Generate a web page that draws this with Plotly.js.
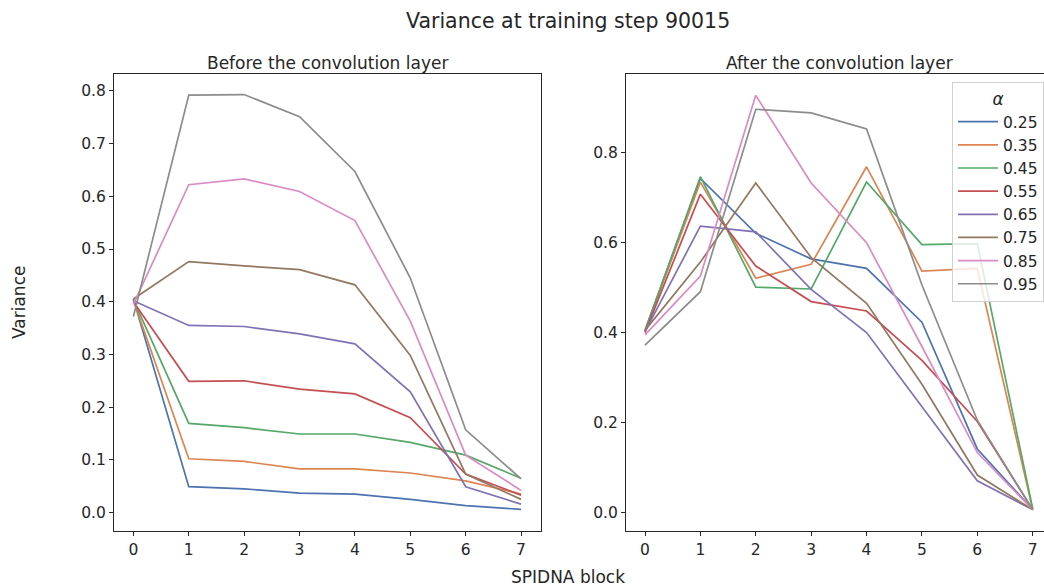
<!DOCTYPE html>
<html>
<head>
<meta charset="utf-8">
<script src="https://cdn.plot.ly/plotly-3.0.1.min.js"></script>
<style>
  html, body { margin: 0; padding: 0; background: #ffffff; }
  #chart { width: 1044px; height: 587px; }
</style>
</head>
<body>
<div id="chart"></div>
<script>
// SPIDNA block index
const blocks = [0, 1, 2, 3, 4, 5, 6, 7];

// alpha values, one line per value
const alphas = ['0.25', '0.35', '0.45', '0.55', '0.65', '0.75', '0.85', '0.95'];

// seaborn "deep" palette
const colors = ['#4C72B0', '#DD8452', '#55A868', '#C44E52', '#8172B3', '#937860', '#DA8BC3', '#8C8C8C'];

// Variance before the convolution layer
const before_025 = [0.405, 0.049, 0.045, 0.037, 0.035, 0.025, 0.013, 0.006];
const before_035 = [0.403, 0.102, 0.097, 0.083, 0.083, 0.075, 0.060, 0.035];
const before_045 = [0.404, 0.169, 0.161, 0.149, 0.149, 0.133, 0.109, 0.065];
const before_055 = [0.400, 0.249, 0.250, 0.234, 0.225, 0.180, 0.073, 0.033];
const before_065 = [0.402, 0.355, 0.353, 0.339, 0.320, 0.229, 0.049, 0.016];
const before_075 = [0.405, 0.476, 0.468, 0.461, 0.432, 0.298, 0.073, 0.025];
const before_085 = [0.395, 0.622, 0.633, 0.609, 0.554, 0.363, 0.109, 0.042];
const before_095 = [0.372, 0.792, 0.793, 0.751, 0.647, 0.445, 0.157, 0.064];

// Variance after the convolution layer
const after_025 = [0.405, 0.743, 0.621, 0.564, 0.543, 0.423, 0.141, 0.006];
const after_035 = [0.403, 0.735, 0.521, 0.552, 0.769, 0.537, 0.543, 0.006];
const after_045 = [0.404, 0.747, 0.501, 0.497, 0.735, 0.596, 0.598, 0.008];
const after_055 = [0.400, 0.708, 0.548, 0.469, 0.448, 0.338, 0.202, 0.006];
const after_065 = [0.402, 0.637, 0.624, 0.496, 0.400, 0.236, 0.070, 0.006];
const after_075 = [0.405, 0.557, 0.733, 0.567, 0.465, 0.285, 0.083, 0.006];
const after_085 = [0.395, 0.526, 0.928, 0.733, 0.600, 0.369, 0.133, 0.006];
const after_095 = [0.372, 0.491, 0.897, 0.889, 0.853, 0.506, 0.205, 0.006];

const beforeSeries = [before_025, before_035, before_045, before_055, before_065, before_075, before_085, before_095];
const afterSeries = [after_025, after_035, after_045, after_055, after_065, after_075, after_085, after_095];

const FONT = 'DejaVu Sans, Liberation Sans, sans-serif';
const INK = '#262626';

const traces = [];
alphas.forEach((a, i) => {
  traces.push({
    x: blocks, y: beforeSeries[i], xaxis: 'x', yaxis: 'y',
    type: 'scatter', mode: 'lines', name: a, legendgroup: a, showlegend: false,
    line: { color: colors[i], width: 1.7 }
  });
});
alphas.forEach((a, i) => {
  traces.push({
    x: blocks, y: afterSeries[i], xaxis: 'x2', yaxis: 'y2',
    type: 'scatter', mode: 'lines', name: a, legendgroup: a, showlegend: true,
    line: { color: colors[i], width: 1.7 }
  });
});

const W = 1044, H = 587;
const px = v => v / W;
const py = v => 1 - v / H;

const axisCommon = {
  showgrid: false, zeroline: false,
  showline: true, mirror: true, linecolor: INK, linewidth: 1,
  ticks: 'outside', ticklen: 4, tickwidth: 1, tickcolor: INK,
  tickfont: { family: FONT, size: 15.5, color: INK }
};

const layout = {
  width: W, height: H,
  margin: { l: 0, r: 0, t: 0, b: 0 },
  paper_bgcolor: '#ffffff', plot_bgcolor: '#ffffff',
  font: { family: FONT, color: INK },
  showlegend: true,
  xaxis: Object.assign({}, axisCommon, {
    domain: [px(114), px(541)], range: [-0.35, 7.36],
    tickmode: 'array', tickvals: blocks, ticktext: blocks.map(String), anchor: 'y'
  }),
  yaxis: Object.assign({}, axisCommon, {
    domain: [py(531), py(74)], range: [-0.035, 0.832],
    tickmode: 'linear', tick0: 0, dtick: 0.1, tickformat: '.1f', anchor: 'x'
  }),
  xaxis2: Object.assign({}, axisCommon, {
    domain: [px(626), 1], range: [-0.343, 7.204],
    tickmode: 'array', tickvals: blocks, ticktext: blocks.map(String), anchor: 'y2'
  }),
  yaxis2: Object.assign({}, axisCommon, {
    domain: [py(531), py(74)], range: [-0.0416, 0.9755],
    tickmode: 'linear', tick0: 0, dtick: 0.2, tickformat: '.1f', anchor: 'x2'
  }),
  legend: {
    x: px(952), xanchor: 'left', y: py(82), yanchor: 'top',
    bgcolor: 'rgba(255,255,255,0.8)', bordercolor: '#d0d0d0', borderwidth: 1,
    font: { family: FONT, size: 15.5, color: INK },
    title: { text: '<i>α</i>', side: 'top center', font: { family: FONT, size: 17, color: INK } },
    itemwidth: 40, tracegroupgap: 0
  },
  annotations: [
    { text: 'Variance at training step 90015', x: px(568), y: py(21), xref: 'paper', yref: 'paper',
      xanchor: 'center', yanchor: 'middle', showarrow: false, font: { family: FONT, size: 20.5, color: INK } },
    { text: 'Before the convolution layer', x: px(327.5), y: py(63), xref: 'paper', yref: 'paper',
      xanchor: 'center', yanchor: 'middle', showarrow: false, font: { family: FONT, size: 17, color: INK } },
    { text: 'After the convolution layer', x: px(839), y: py(63), xref: 'paper', yref: 'paper',
      xanchor: 'center', yanchor: 'middle', showarrow: false, font: { family: FONT, size: 17, color: INK } },
    { text: 'SPIDNA block', x: px(568), y: py(577), xref: 'paper', yref: 'paper',
      xanchor: 'center', yanchor: 'middle', showarrow: false, font: { family: FONT, size: 17, color: INK } },
    { text: 'Variance', x: px(19), y: py(303), xref: 'paper', yref: 'paper', textangle: -90,
      xanchor: 'center', yanchor: 'middle', showarrow: false, font: { family: FONT, size: 17, color: INK } }
  ]
};

Plotly.newPlot('chart', traces, layout, { staticPlot: true, displayModeBar: false });
</script>
</body>
</html>
